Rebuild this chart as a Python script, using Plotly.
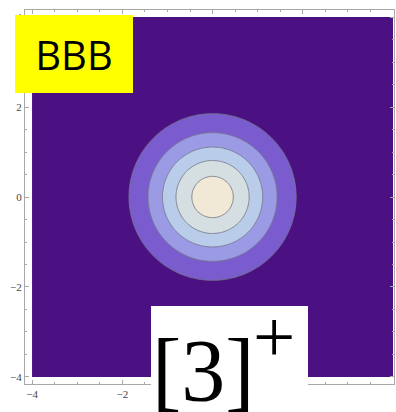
import numpy as np
import plotly.graph_objects as go

# ---- data ----
x_vals = np.linspace(-4, 4, 321)
y_vals = np.linspace(-4, 4, 321)
contour_levels = [0.18, 0.36, 0.54, 0.72, 0.90]
band_colors = ["#4B1183", "#7A5CCE", "#9B9AE5", "#B9CCEA", "#D5DEE0", "#F2E8D6"]
tick_vals = [-4, -2, 0, 2, 4]
tick_text = ["\u22124", "\u22122", "0", "2", "4"]

X, Y = np.meshgrid(x_vals, y_vals)
Z = np.exp(-(X**2 + Y**2) / 2)

step = contour_levels[1] - contour_levels[0]
zmin = contour_levels[0] - step
zmax = contour_levels[-1] + step
edges = [zmin] + contour_levels + [zmax]
cs = []
for i, c in enumerate(band_colors):
    a = (edges[i] - zmin) / (zmax - zmin)
    b = (edges[i + 1] - zmin) / (zmax - zmin)
    cs.append([a, c])
    cs.append([b, c])

fig = go.Figure(go.Contour(
    x=x_vals, y=y_vals, z=Z,
    zauto=False, zmin=zmin, zmax=zmax,
    colorscale=cs, showscale=False,
    contours=dict(start=contour_levels[0], end=contour_levels[-1], size=step, coloring="fill"),
    line=dict(color="rgba(115,120,135,0.95)", width=0.9),
    hoverinfo="skip",
))

W, H = 396, 412
ml, mr, mt, mb = 25, 2, 10, 28
pw, ph = W - ml - mr, H - mt - mb

def px(xp):
    return (xp - ml) / pw

def py(yp):
    return (H - mb - yp) / ph

axis_common = dict(
    showgrid=False, zeroline=False,
    showline=True, linecolor="#A8A8A8", linewidth=1, mirror="ticks",
    ticks="inside", ticklen=4, tickcolor="#A8A8A8", tickwidth=1,
    tickvals=tick_vals, ticktext=tick_text,
    minor=dict(dtick=0.5, ticks="inside", ticklen=2, tickcolor="#A8A8A8", showgrid=False),
    tickfont=dict(family="Liberation Serif", size=11, color="#444444"),
)

fig.update_layout(
    width=W, height=H,
    margin=dict(l=ml, r=mr, t=mt, b=mb),
    paper_bgcolor="white", plot_bgcolor="white",
    xaxis=dict(range=[-4.156, 4.02], ticklabelstandoff=0, **axis_common),
    yaxis=dict(range=[-4.156, 4.156], **axis_common),
    showlegend=False,
)

# white label box at bottom
fig.add_shape(type="rect", xref="paper", yref="paper",
              x0=px(151), x1=px(308), y0=py(430), y1=py(306),
              fillcolor="white", line=dict(width=0), layer="above")

# yellow BBB box
fig.add_annotation(xref="paper", yref="paper", x=px(15), y=py(15),
                   xanchor="left", yanchor="top", showarrow=False,
                   text="BBB", width=118, height=78, bgcolor="#FFFF00",
                   borderpad=0, borderwidth=0, align="center", valign="middle",
                   font=dict(family="Open Sans", size=40, color="black"))

fig.add_annotation(xref="paper", yref="paper", x=px(203), y=py(370),
                   xanchor="center", yanchor="middle", showarrow=False,
                   text="[3]", font=dict(family="Liberation Serif", size=88, color="black"))
fig.add_annotation(xref="paper", yref="paper", x=px(273.5), y=py(336.5),
                   xanchor="center", yanchor="middle", showarrow=False,
                   text="+", font=dict(family="Liberation Serif", size=75, color="black"))

fig.write_html("out.html")
